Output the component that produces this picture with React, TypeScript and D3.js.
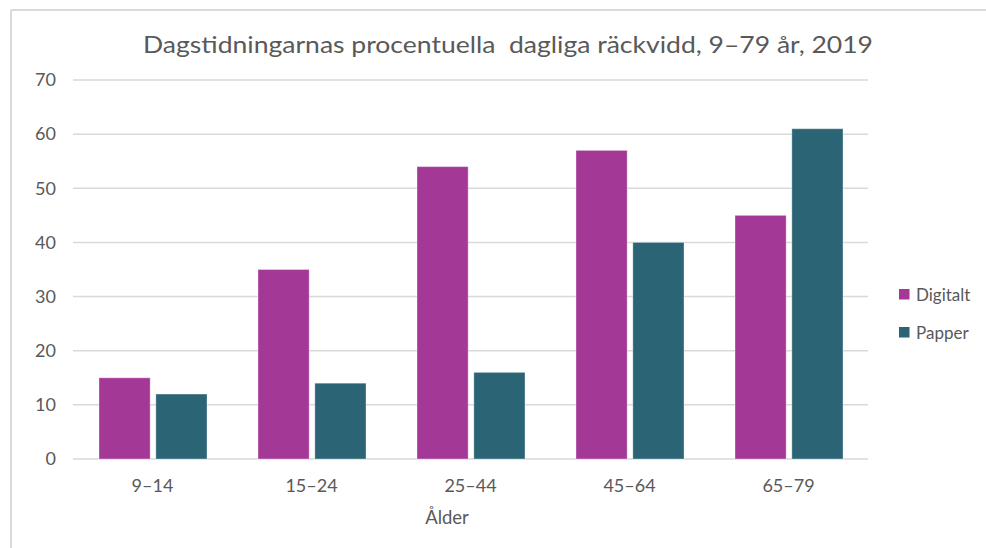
import React from "react";
import * as d3 from "d3";

const categories = ["9–14", "15–24", "25–44", "45–64", "65–79"];
const seriesNames = ["Digitalt", "Papper"];
const digitalt = [15, 35, 54, 57, 45];
const papper = [12, 14, 16, 40, 61];
const yTicks = [0, 10, 20, 30, 40, 50, 60, 70];
const colors = ["#A33897", "#2A6475"];

const W = 986;
const H = 548;
const font = "Lato, 'Open Sans', sans-serif";

export default function App() {
  const x = d3.scaleBand<string>().domain(categories).range([73, 868]).paddingInner(0).paddingOuter(0);
  const y = d3.scaleLinear().domain([0, 70]).range([459, 80]);
  const groupW = 108;
  const inner = d3.scaleBand<string>().domain(seriesNames).range([0, groupW]).paddingInner(0.1);
  const series = [digitalt, papper];

  return (
    <svg width={W} height={H} style={{ position: "absolute", left: 0, top: 0, background: "#fff" }} fontFamily={font}>
      <rect x={0} y={0} width={W} height={H} fill="#fff" />
      <line x1={11} y1={10} x2={W} y2={10} stroke="#d9d9d9" strokeWidth={2} />
      <line x1={11} y1={10} x2={11} y2={H} stroke="#d9d9d9" strokeWidth={2} />
      <text x={508} y={53} textAnchor="middle" fontSize={23.5} fill="#595959" textLength={730} lengthAdjust="spacingAndGlyphs" style={{ whiteSpace: "pre" }}>
        {"Dagstidningarnas procentuella  dagliga räckvidd, 9–79 år, 2019"}
      </text>
      {yTicks.map((t) => (
        <g key={t}>
          <line x1={73} x2={868} y1={y(t)} y2={y(t)} stroke="#d9d9d9" strokeWidth={1.5} />
          <text x={56} y={y(t) + 6.3} textAnchor="end" fontSize={18} fill="#595959">{t}</text>
        </g>
      ))}
      {categories.map((c, i) => {
        const cx = (x(c) as number) + x.bandwidth() / 2;
        const gx = cx - groupW / 2 + 0.5;
        return (
          <g key={c}>
            {series.map((s, j) => (
              <rect
                key={j}
                x={gx + (inner(seriesNames[j]) as number)}
                y={y(s[i])}
                width={inner.bandwidth()}
                height={y(0) - y(s[i])}
                fill={colors[j]}
                stroke="#ffffff"
                strokeOpacity={0.35}
                strokeWidth={1}
              />
            ))}
            <text x={cx} y={492} textAnchor="middle" fontSize={18} fill="#595959">{c}</text>
          </g>
        );
      })}
      <text x={447} y={524} textAnchor="middle" fontSize={18.5} fill="#595959">Ålder</text>
      {seriesNames.map((n, j) => (
        <g key={n}>
          <rect x={899} y={289 + j * 38} width={10.5} height={10.5} fill={colors[j]} />
          <text x={916} y={300.5 + j * 38} fontSize={17} fill="#595959">{n}</text>
        </g>
      ))}
    </svg>
  );
}
